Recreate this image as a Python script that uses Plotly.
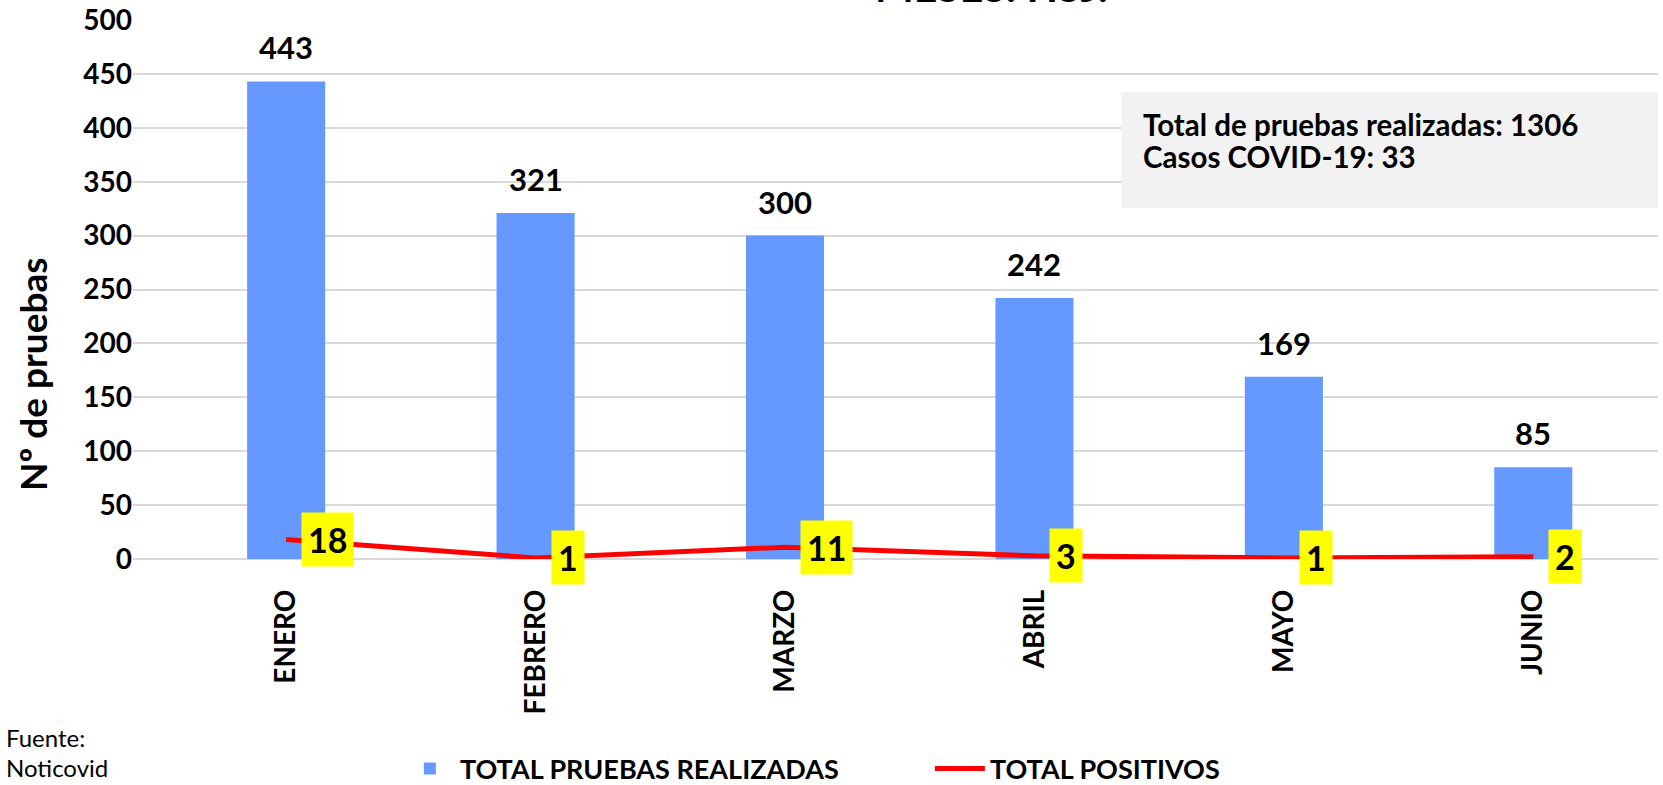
import plotly.graph_objects as go

meses = ["ENERO", "FEBRERO", "MARZO", "ABRIL", "MAYO", "JUNIO"]
pruebas = [443, 321, 300, 242, 169, 85]
positivos = [18, 1, 11, 3, 1, 2]
y_ticks = [0, 50, 100, 150, 200, 250, 300, 350, 400, 450, 500]
resumen = ["Total de pruebas realizadas: 1306", "Casos COVID-19: 33"]

FONT = "Lato, Open Sans, sans-serif"
BLUE = "#6699FF"

fig = go.Figure()
fig.add_trace(go.Bar(
    x=meses, y=pruebas, name="TOTAL PRUEBAS REALIZADAS",
    marker=dict(color=BLUE, line=dict(width=0)), width=0.313,
))
fig.add_trace(go.Scatter(
    x=meses, y=positivos, name="TOTAL POSITIVOS", mode="lines",
    line=dict(color="#FF0000", width=5),
))

# bar value labels
for m, v in zip(meses, pruebas):
    fig.add_annotation(x=m, y=v, text=str(v), showarrow=False,
                       yanchor="bottom", yshift=13,
                       font=dict(family=FONT, size=31, color="black", weight="bold"))
# line value labels (yellow boxes)
for m, v in zip(meses, positivos):
    fig.add_annotation(x=m, y=v, text=str(v), showarrow=False,
                       xanchor="left", yanchor="middle", xshift=15,
                       bgcolor="#FFFF00", borderpad=6,
                       font=dict(family=FONT, size=34, color="black", weight="bold"))

# summary box
fig.add_shape(type="rect", xref="paper", yref="paper",
              x0=0.648, x1=1.0, y0=0.651, y1=0.866,
              fillcolor="#F2F2F2", line=dict(width=0), layer="above")
for txt, yy in zip(resumen, [0.806, 0.746]):
    fig.add_annotation(xref="paper", yref="paper", x=0.661, y=yy, text=txt,
                       showarrow=False, xanchor="left", yanchor="middle",
                       font=dict(family=FONT, size=29.5, color="black", weight="bold"))

# partially visible title
fig.add_annotation(xref="paper", yref="paper", x=0.563, y=1.0, yshift=7,
                   text="MESES: HSJ.", showarrow=False, yanchor="bottom",
                   font=dict(family=FONT, size=41, color="black", weight="bold"))

# y axis title (placed like the original, lower than the plot centre)
fig.add_annotation(xref="paper", yref="paper", x=(32 - 133) / 1525, y=0.343,
                   text="Nº de pruebas", textangle=-90, showarrow=False,
                   xanchor="center", yanchor="middle",
                   font=dict(family=FONT, size=37, color="black", weight="bold"))

# source
for txt, ypix in [("Fuente:", 737), ("Noticovid", 767)]:
    fig.add_annotation(xref="paper", yref="paper", x=(4 - 133) / 1525,
                       y=(559 - ypix) / 539, text=txt, showarrow=False,
                       xanchor="left", yanchor="middle",
                       font=dict(family=FONT, size=24, color="black"))

fig.update_layout(
    width=1663, height=785,
    margin=dict(l=133, r=5, t=20, b=226, autoexpand=False),
    plot_bgcolor="white", paper_bgcolor="white",
    font=dict(family=FONT, color="black"),
    showlegend=True,
    legend=dict(orientation="h", x=0.175, xanchor="left", y=(559 - 769) / 539,
                yanchor="middle",
                font=dict(family=FONT, size=27, color="black", weight="bold"),
                entrywidth=465, itemwidth=50, traceorder="normal"),
    bargap=0.3,
)
fig.update_xaxes(range=[-0.614, 5.5], showgrid=False, showline=False, ticks="",
                 tickangle=-90, ticklabelstandoff=24,
                 tickfont=dict(family=FONT, size=28, color="black", weight="bold"))
fig.update_yaxes(range=[0, 500], tickvals=y_ticks, showgrid=True, gridcolor="#D9D9D9",
                 gridwidth=1.5, zeroline=True, zerolinecolor="#D9D9D9", zerolinewidth=1.5,
                 showline=False, ticks="", ticklabeloverflow="allow",
                 tickfont=dict(family=FONT, size=28, color="black", weight="bold"))

# remove the default 8px page margin so the figure fills the window exactly
fig.write_html("out.html", config={"displayModeBar": False},
               post_script="document.body.style.margin='0';")
